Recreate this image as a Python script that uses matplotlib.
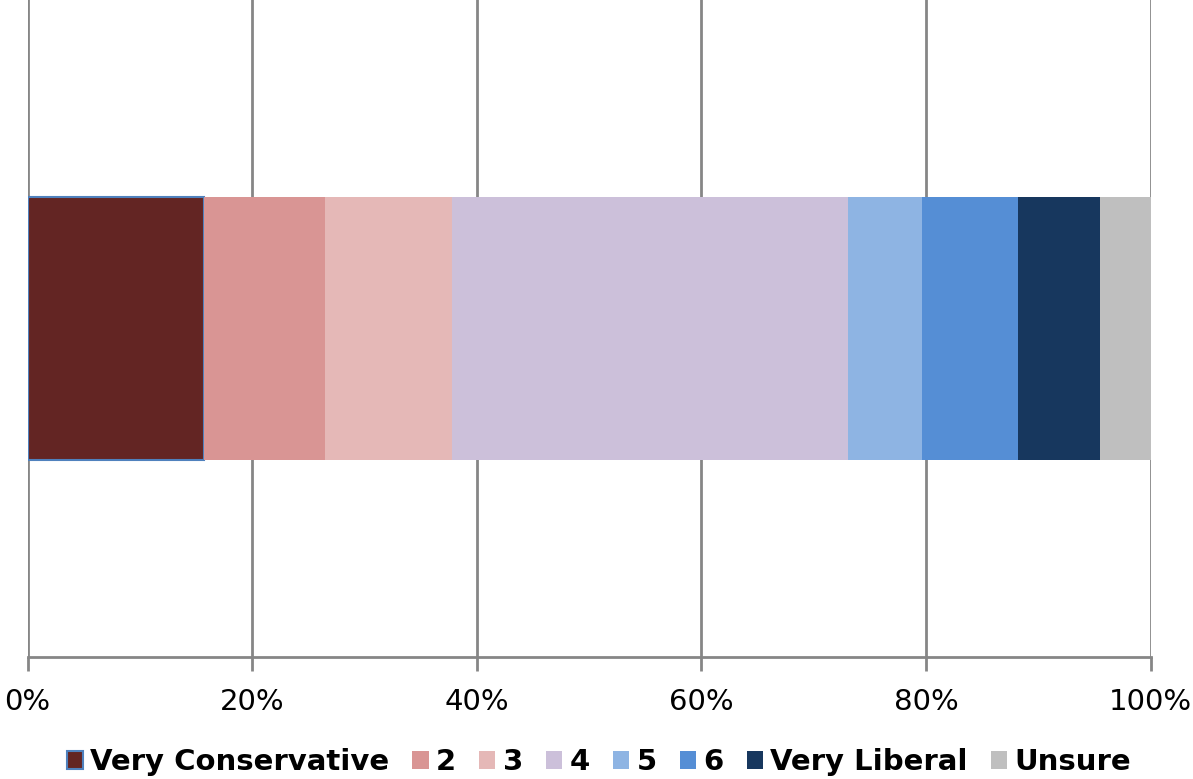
import matplotlib
matplotlib.use("Agg")
import matplotlib.pyplot as plt
from matplotlib.ticker import FuncFormatter

categories = ["Very Conservative", "2", "3", "4", "5", "6", "Very Liberal", "Unsure"]
values = [15.72, 10.77, 11.31, 35.26, 6.59, 8.55, 7.30, 4.50]
colors = ["#632523", "#D99594", "#E5B8B7", "#CCC0DA", "#8EB4E3", "#558ED5", "#17375E", "#BFBFBF"]
xticks = [0, 20, 40, 60, 80, 100]

fig = plt.figure(figsize=(11.93, 7.79), dpi=100)
W, H = 1193, 779
ax = fig.add_axes([27.5 / W, (H - 657) / H, (1150.5 - 27.5) / W, 657 / H])

left = 0
for i, (cat, v, c) in enumerate(zip(categories, values, colors)):
    if i == 0:
        ax.barh([0], [v], left=left, height=0.4, color=c, edgecolor="#4F81BD",
                linewidth=1.5, label=cat, zorder=3)
    else:
        ax.barh([0], [v], left=left, height=0.4, color=c, linewidth=0,
                label=cat, zorder=3)
    left += v

ax.set_xlim(0, 100)
ax.set_ylim(-0.5, 0.5)
ax.set_xticks(xticks)
ax.xaxis.set_major_formatter(FuncFormatter(lambda x, p: f"{int(x)}%"))
ax.set_yticks([])
ax.grid(axis="x", color="#868686", linewidth=2, zorder=0)
for s in ["top", "right", "left"]:
    ax.spines[s].set_visible(False)
ax.spines["bottom"].set_color("#868686")
ax.spines["bottom"].set_linewidth(2)
ax.tick_params(axis="x", direction="out", length=10, width=2, color="#868686",
               labelsize=21, pad=12, labelcolor="black")

leg = fig.legend(loc="lower center", ncol=8, frameon=False,
                 bbox_to_anchor=(0.502, -0.03),
                 prop={"weight": "bold", "size": 21},
                 handlelength=0.55, handleheight=0.55, handletextpad=0.25,
                 columnspacing=0.8)

fig.savefig("out.png", dpi=100)
